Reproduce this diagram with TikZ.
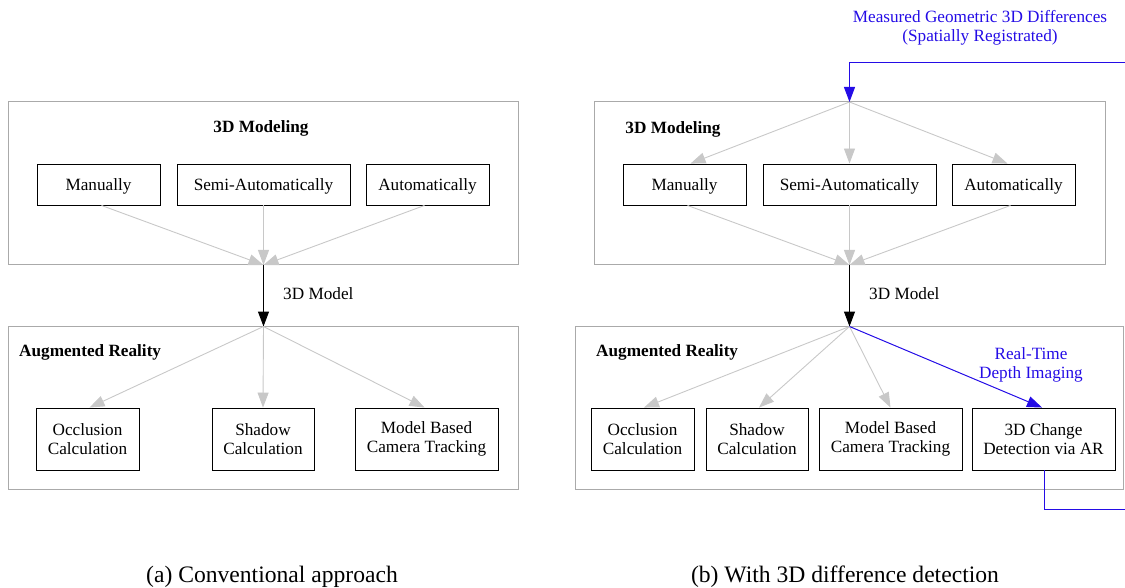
\documentclass[tikz,border=0pt]{standalone}
\usepackage{fontspec}
\setmainfont{Liberation Serif}
\usetikzlibrary{arrows.meta}
\definecolor{edgegray}{RGB}{200,200,200}
\definecolor{framegray}{RGB}{170,170,170}
\definecolor{fbblue}{RGB}{36,12,230}
\newcommand{\lowered}[1]{\raisebox{-1.5pt}[\height][\depth]{#1}}

\begin{document}
\begin{tikzpicture}[x=1pt,y=-1pt,
  every node/.style={font=\fontsize{17.2}{19.5}\selectfont, inner sep=0pt},
  cluster/.style={draw=framegray, line width=1pt},
  ctitle/.style={font=\fontsize{17.2}{19.5}\selectfont\bfseries},
  box/.style={draw=black, line width=0.9pt, align=center},
  topbox/.style={box, minimum height=41pt},
  botbox/.style={box, minimum height=62pt},
  tipend/.style={-{Triangle[length=15pt,width=11pt]}},
  grayedge/.style={tipend, color=edgegray, line width=0.9pt},
  mainedge/.style={tipend, color=black, line width=1pt},
  blueedge/.style={color=fbblue, line width=1.1pt},
  bluelabel/.style={text=fbblue, align=center},
  caption/.style={font=\fontsize{23.6}{27}\selectfont}
]
\useasboundingbox (0,0) rectangle (1125,588);

% ---------------- (a) conventional approach ----------------
\node[cluster, minimum width=510pt, minimum height=163pt] (lmod) at (263,183.5) {};
\node[cluster, minimum width=510pt, minimum height=163pt] (lar) at (263,407.5) {};
\node[ctitle] (lmodt) at (261,128.5) {3D Modeling};
\node[ctitle, anchor=west] (lart) at (19,352.5) {Augmented Reality};

\node[topbox, minimum width=123pt] (lman) at (98.5,184.5) {\lowered{Manually}};
\node[topbox, minimum width=173pt] (lsemi) at (263.5,184.5) {\lowered{Semi-Automatically}};
\node[topbox, minimum width=123pt] (lauto) at (427.5,184.5) {\lowered{Automatically}};

\node[botbox, minimum width=103pt] (locc) at (87.5,439) {Occlusion\\Calculation};
\node[botbox, minimum width=102pt] (lsha) at (263,439) {Shadow\\Calculation};
\node[botbox, minimum width=143pt] (lcam) at (426.5,439) {Model Based\\Camera Tracking};

\coordinate (ljA) at (263.5,265);
\coordinate (ljB) at (263.5,326.5);

\draw[grayedge] ([xshift=3pt]lman.south) -- (ljA);
\draw[grayedge] (lsemi.south) -- (ljA);
\draw[grayedge] ([xshift=-3pt]lauto.south) -- (ljA);
\draw[mainedge] (ljA) -- (ljB);
\node[anchor=west] (lmodel) at (283,293.5) {3D Model};
\draw[grayedge] (ljB) -- ([xshift=2pt]locc.north);
\draw[grayedge] (ljB) -- (lsha.north);
\draw[grayedge] (ljB) -- ([xshift=-2pt]lcam.north);

\node[caption] (capa) at (272,577) {(a) Conventional approach};

% ---------------- (b) with 3D difference detection ----------------
\node[cluster, minimum width=511pt, minimum height=163pt] (rmod) at (849.5,183.5) {};
\node[cluster, minimum width=548pt, minimum height=163pt] (rar) at (849,407.5) {};
\node[ctitle] (rmodt) at (673,129.5) {3D Modeling};
\node[ctitle, anchor=west] (rart) at (596,352.5) {Augmented Reality};

\node[topbox, minimum width=123pt] (rman) at (684.5,184.5) {\lowered{Manually}};
\node[topbox, minimum width=173pt] (rsemi) at (849.5,184.5) {\lowered{Semi-Automatically}};
\node[topbox, minimum width=123pt] (rauto) at (1013.5,184.5) {\lowered{Automatically}};

\node[botbox, minimum width=103pt] (rocc) at (642.5,439) {Occlusion\\Calculation};
\node[botbox, minimum width=102pt] (rsha) at (757,439) {Shadow\\Calculation};
\node[botbox, minimum width=143pt] (rcam) at (890.5,439) {Model Based\\Camera Tracking};
\node[botbox, minimum width=143pt] (rchg) at (1043.5,439) {3D Change\\Detection via AR};

\coordinate (rjTop) at (849.5,102);
\coordinate (rjA) at (849.5,265);
\coordinate (rjB) at (849.5,326.5);
\coordinate (rin) at (1125,62.5);
\coordinate (rout) at (1125,509.5);

\draw[grayedge] (rjTop) -- ([xshift=6pt]rman.north);
\draw[grayedge] (rjTop) -- (rsemi.north);
\draw[grayedge] (rjTop) -- ([xshift=-6pt]rauto.north);

\draw[grayedge] ([xshift=3pt]rman.south) -- (rjA);
\draw[grayedge] (rsemi.south) -- (rjA);
\draw[grayedge] ([xshift=-3pt]rauto.south) -- (rjA);
\draw[mainedge] (rjA) -- (rjB);
\node[anchor=west] (rmodel) at (869,293.5) {3D Model};

\draw[grayedge] (rjB) -- ([xshift=1.5pt]rocc.north);
\draw[grayedge] (rjB) -- ([xshift=2pt]rsha.north);
\draw[grayedge] (rjB) -- (rcam.north);
\draw[blueedge, line width=1pt, tipend] (rjB) -- ([xshift=-1.5pt]rchg.north);
\node[bluelabel] (rdepth) at (1031,365) {Real-Time\\Depth Imaging};

% feedback loop of measured differences
\draw[blueedge] ([xshift=1pt]rchg.south) |- (rout);
\draw[blueedge, tipend] (rin) -| (rjTop);
\node[bluelabel] (rdiff) at (980,28) {Measured Geometric 3D Differences\\(Spatially Registrated)};

\node[caption] (capb) at (845,577) {(b) With 3D difference detection};
\end{tikzpicture}
\end{document}
